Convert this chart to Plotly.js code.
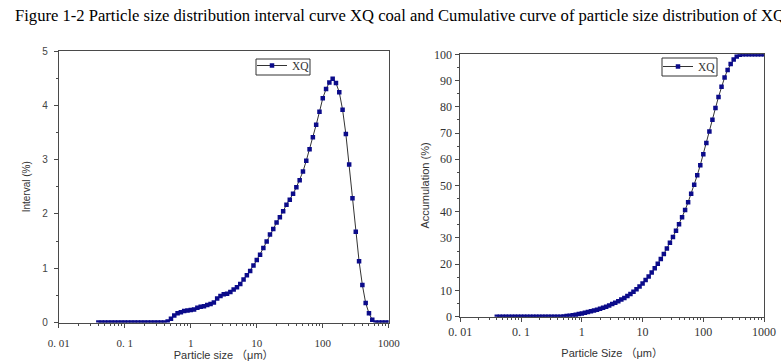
<!DOCTYPE html>
<html>
<head>
<meta charset="utf-8">
<script src="https://cdn.plot.ly/plotly-3.0.1.min.js"></script>
<style>
  html, body { margin: 0; padding: 0; background: #ffffff; }
  #chart { width: 781px; height: 361px; }
</style>
</head>
<body>
<div id="chart"></div>
<script>
// Particle size classes (µm)
const sizeUm = [
  0.0399, 0.0448, 0.0502, 0.0564, 0.0632, 0.0710, 0.0796, 0.0893, 0.1002,
  0.1125, 0.1262, 0.1416, 0.1589, 0.1783, 0.2000, 0.2244, 0.2518, 0.2825, 0.3170,
  0.3557, 0.3991, 0.4477, 0.5024, 0.5637, 0.6325, 0.7096, 0.7962, 0.8934, 1.0024,
  1.1247, 1.2619, 1.4159, 1.5887, 1.7825, 2.0000, 2.2440, 2.5179, 2.8251, 3.1698,
  3.5566, 3.9905, 4.4774, 5.0238, 5.6368, 6.3246, 7.0963, 7.9621, 8.9337, 10.0237,
  11.2468, 12.6191, 14.1589, 15.8866, 17.8250, 20.0000, 22.4404, 25.1785, 28.2508, 31.6979,
  35.5656, 39.9052, 44.7744, 50.2377, 56.3677, 63.2456, 70.9627, 79.6214, 89.3367, 100.2374,
  112.4683, 126.1915, 141.5892, 158.8656, 178.2502, 200.0000, 224.4037, 251.7851, 282.5075, 316.9786,
  355.6559, 399.0525, 447.7442, 502.3773, 563.6766, 632.4555, 709.6268, 796.2143, 893.3672, 1002.3745
];

// Interval (%) — XQ coal
const intervalPct = [
  0, 0, 0, 0, 0, 0, 0, 0, 0,
  0, 0, 0, 0, 0, 0, 0, 0, 0, 0,
  0, 0, 0.02, 0.07, 0.13, 0.17, 0.19, 0.21, 0.22, 0.23,
  0.24, 0.27, 0.29, 0.30, 0.32, 0.34, 0.37, 0.44, 0.49, 0.52,
  0.53, 0.56, 0.61, 0.65, 0.71, 0.79, 0.87, 0.95, 1.05, 1.15,
  1.25, 1.37, 1.49, 1.62, 1.72, 1.84, 1.94, 2.05, 2.17, 2.26,
  2.37, 2.49, 2.62, 2.78, 2.98, 3.19, 3.41, 3.64, 3.88, 4.13,
  4.30, 4.42, 4.49, 4.41, 4.24, 3.92, 3.47, 2.91, 2.29, 1.67,
  1.13, 0.69, 0.36, 0.17, 0.05, 0, 0, 0, 0, 0
];

// Accumulation (%) — XQ coal
const cumulativePct = [
  0, 0, 0, 0, 0, 0, 0, 0, 0,
  0, 0, 0, 0, 0, 0, 0, 0, 0, 0,
  0, 0, 0.02, 0.09, 0.22, 0.39, 0.58, 0.79, 1.01, 1.24,
  1.48, 1.75, 2.04, 2.34, 2.66, 3.00, 3.37, 3.81, 4.30, 4.82,
  5.35, 5.91, 6.52, 7.17, 7.88, 8.67, 9.54, 10.49, 11.54, 12.69,
  13.94, 15.31, 16.80, 18.42, 20.14, 21.98, 23.92, 25.97, 28.14, 30.40,
  32.77, 35.26, 37.88, 40.66, 43.64, 46.83, 50.24, 53.88, 57.76, 61.89,
  66.19, 70.61, 75.10, 79.51, 83.75, 87.67, 91.14, 94.05, 96.34, 98.01,
  99.14, 99.83, 100, 100, 100, 100, 100, 100, 100, 100
];

const seriesName = 'XQ';
const xTickVals = [0.01, 0.1, 1, 10, 100, 1000];
const xTickText = ['0. 01', '0. 1', '1', '10', '100', '1000'];
const titleText = 'Figure 1-2 Particle size distribution interval curve XQ coal and Cumulative curve of particle size distribution of XQ coal';

// minor log ticks (2..9 of each decade)
const minorVals = [];
for (let d = -2; d < 3; d++) {
  for (let m = 2; m <= 9; m++) minorVals.push(m * Math.pow(10, d));
}

const W = 781, H = 361;
const px = v => v / W;
const py = v => 1 - v / H;

const lineCol = '#333333';
const markCol = '#0b0b8a';
const axCol = '#4a4a4a';
const serif = 'Liberation Serif, Times New Roman, serif';
const sans = 'Liberation Sans, Arial, Noto Sans CJK SC, sans-serif';

const traces = [
  {
    x: sizeUm, y: intervalPct, xaxis: 'x', yaxis: 'y',
    type: 'scatter', mode: 'lines+markers', name: seriesName,
    line: { color: lineCol, width: 1 },
    marker: { symbol: 'square', size: 4.5, color: markCol },
    legend: 'legend'
  },
  {
    x: sizeUm, y: cumulativePct, xaxis: 'x2', yaxis: 'y2',
    type: 'scatter', mode: 'lines+markers', name: seriesName,
    line: { color: lineCol, width: 1 },
    marker: { symbol: 'square', size: 4.5, color: markCol },
    legend: 'legend2'
  }
];

function xAxis(domain, anchor, fontSize, standoff, titleText, titleStandoff) {
  return {
    domain: domain, anchor: anchor, type: 'log', range: [-2, 3],
    showline: true, linecolor: axCol, linewidth: 1, mirror: true,
    ticks: 'outside', ticklen: 4, tickcolor: axCol, tickwidth: 1,
    tickmode: 'array', tickvals: xTickVals, ticktext: xTickText,
    tickfont: { family: serif, size: fontSize, color: '#333' },
    ticklabelstandoff: standoff,
    minor: { ticks: 'outside', ticklen: 2, tickcolor: axCol, tickmode: 'array', tickvals: minorVals, showgrid: false },
    showgrid: false, zeroline: false,
    title: { text: titleText, font: { family: sans, size: 11, color: '#333' }, standoff: titleStandoff }
  };
}

function legendOpts(xLeft, yTop) {
  return {
    x: px(xLeft), xanchor: 'left', y: py(yTop), yanchor: 'top',
    bgcolor: 'rgba(0,0,0,0)', borderwidth: 0,
    font: { family: serif, size: 11.5, color: '#333' },
    itemwidth: 30, tracegroupgap: 0
  };
}

function boxShape(x0, y0, x1, y1) {
  return {
    type: 'rect', xref: 'paper', yref: 'paper',
    x0: px(x0), x1: px(x1), y0: py(y1), y1: py(y0),
    line: { color: '#333', width: 1 }, fillcolor: '#ffffff', layer: 'above'
  };
}

const layout = {
  width: W, height: H,
  margin: { l: 0, r: 0, t: 0, b: 0 },
  paper_bgcolor: '#ffffff', plot_bgcolor: '#ffffff',
  showlegend: true,
  hovermode: false,
  xaxis: xAxis([px(58.7), px(388.7)], 'y', 11, 6, 'Particle size （μm）', 3),
  yaxis: {
    domain: [py(322.5), py(51)], anchor: 'x', range: [0, 5],
    showline: true, linecolor: axCol, linewidth: 1, mirror: true,
    ticks: 'outside', ticklen: 4, tickcolor: axCol, dtick: 1, tick0: 0,
    tickfont: { family: sans, size: 10, color: '#444' },
    ticklabelstandoff: 4,
    minor: { ticks: 'outside', ticklen: 2, tickcolor: axCol, dtick: 0.5, showgrid: false },
    showgrid: false, zeroline: false,
    title: { text: 'Interval (%)', font: { family: sans, size: 10, color: '#333' }, standoff: 9 }
  },
  xaxis2: xAxis([px(460.3), px(764)], 'y2', 12, 0, 'Particle Size （μm）', 11),
  yaxis2: {
    domain: [py(316.7), py(54.3)], anchor: 'x2', range: [0, 100],
    showline: true, linecolor: axCol, linewidth: 1, mirror: true,
    ticks: 'outside', ticklen: 4, tickcolor: axCol, dtick: 10, tick0: 0,
    tickfont: { family: serif, size: 12, color: '#333' },
    ticklabelstandoff: 1,
    minor: { ticks: 'outside', ticklen: 2, tickcolor: axCol, dtick: 5, showgrid: false },
    showgrid: false, zeroline: false,
    title: { text: 'Accumulation (%)', font: { family: sans, size: 11, color: '#333' }, standoff: 2 }
  },
  legend: legendOpts(252, 51),
  legend2: legendOpts(658, 52),
  shapes: [
    boxShape(256, 59, 310, 75),
    boxShape(662, 58, 717, 76)
  ],
  annotations: [
    {
      text: titleText, xref: 'paper', yref: 'paper',
      x: px(13), xanchor: 'left', y: py(15), yanchor: 'middle',
      showarrow: false, font: { family: serif, size: 16.6, color: '#000' }
    }
  ]
};

Plotly.newPlot('chart', traces, layout, { displayModeBar: false, staticPlot: true });
</script>
</body>
</html>
